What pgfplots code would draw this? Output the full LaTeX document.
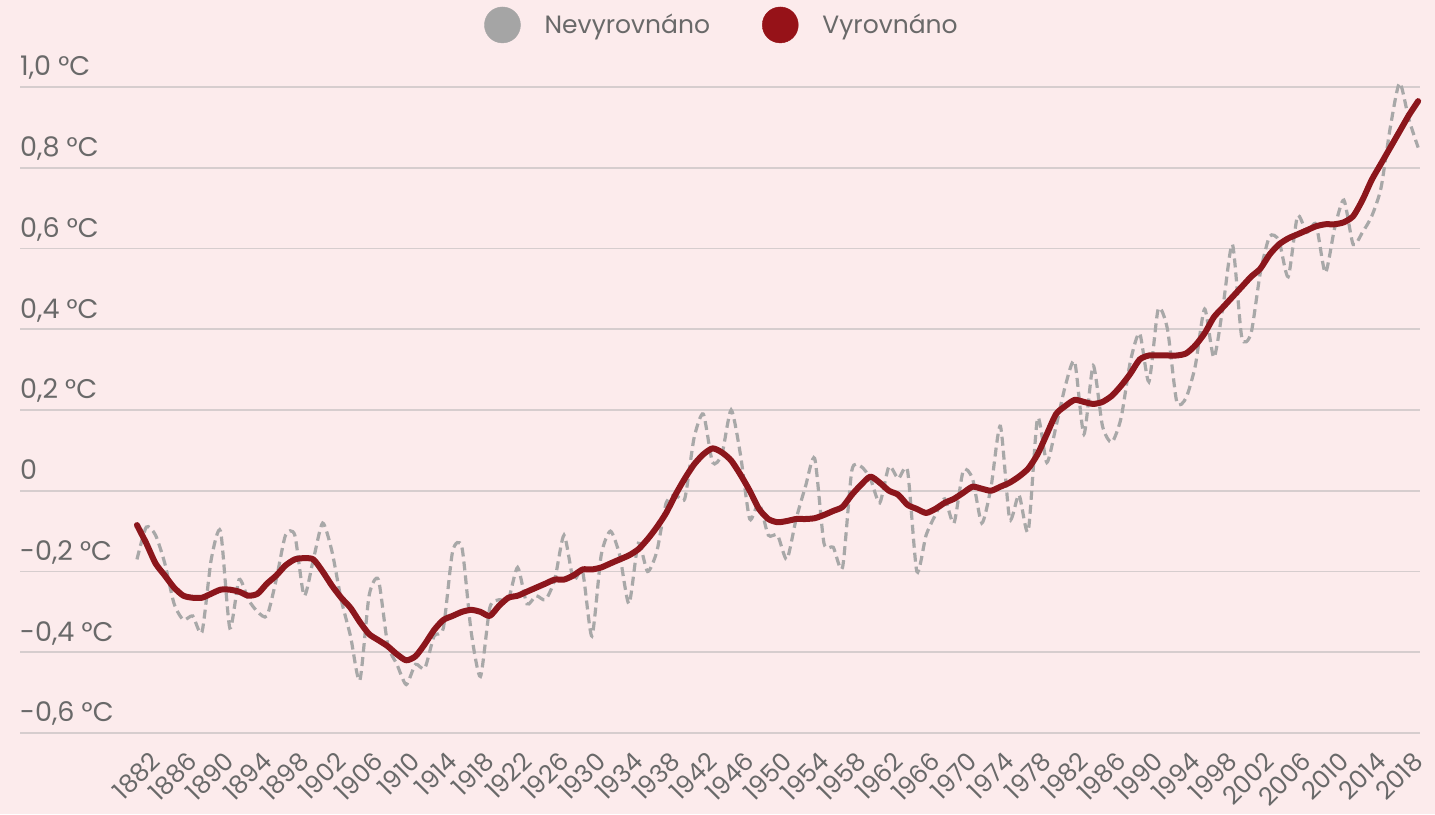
\documentclass[border=0pt]{standalone}
\usepackage{fontspec}
\setmainfont{Poppins}
\usepackage{pgfplots}
\usepackage{pgfplotstable}
\pgfplotsset{compat=1.18}
\definecolor{bgc}{RGB}{252,235,236}
\definecolor{gridc}{RGB}{214,205,206}
\definecolor{txtc}{RGB}{105,105,105}
\definecolor{rawc}{RGB}{168,168,168}
\definecolor{smoothc}{RGB}{140,22,28}
\definecolor{legred}{RGB}{150,18,24}
\definecolor{leggray}{RGB}{165,165,165}

\pgfplotstableread{
year raw smooth
1880 -0.17 -0.085
1881 -0.09 -0.13
1882 -0.11 -0.18
1883 -0.18 -0.21
1884 -0.28 -0.24
1885 -0.32 -0.26
1886 -0.31 -0.265
1887 -0.35 -0.265
1888 -0.17 -0.255
1889 -0.10 -0.245
1890 -0.34 -0.245
1891 -0.22 -0.25
1892 -0.27 -0.26
1893 -0.30 -0.255
1894 -0.31 -0.23
1895 -0.22 -0.21
1896 -0.11 -0.185
1897 -0.11 -0.17
1898 -0.26 -0.167
1899 -0.17 -0.17
1900 -0.08 -0.20
1901 -0.15 -0.235
1902 -0.27 -0.265
1903 -0.36 -0.29
1904 -0.47 -0.325
1905 -0.26 -0.355
1906 -0.22 -0.37
1907 -0.38 -0.385
1908 -0.43 -0.405
1909 -0.48 -0.42
1910 -0.43 -0.41
1911 -0.44 -0.38
1912 -0.36 -0.345
1913 -0.34 -0.32
1914 -0.15 -0.31
1915 -0.14 -0.30
1916 -0.35 -0.295
1917 -0.46 -0.30
1918 -0.29 -0.31
1919 -0.27 -0.285
1920 -0.27 -0.265
1921 -0.19 -0.26
1922 -0.28 -0.25
1923 -0.26 -0.24
1924 -0.27 -0.23
1925 -0.22 -0.22
1926 -0.11 -0.22
1927 -0.22 -0.21
1928 -0.20 -0.195
1929 -0.36 -0.195
1930 -0.16 -0.19
1931 -0.10 -0.18
1932 -0.16 -0.17
1933 -0.28 -0.16
1934 -0.13 -0.145
1935 -0.20 -0.12
1936 -0.15 -0.09
1937 -0.03 -0.055
1938 -0.01 -0.01
1939 -0.02 0.03
1940 0.13 0.065
1941 0.19 0.09
1942 0.07 0.105
1943 0.09 0.095
1944 0.20 0.075
1945 0.09 0.04
1946 -0.07 0.0
1947 -0.03 -0.045
1948 -0.11 -0.07
1949 -0.11 -0.078
1950 -0.17 -0.075
1951 -0.07 -0.07
1952 0.01 -0.07
1953 0.08 -0.068
1954 -0.13 -0.06
1955 -0.14 -0.05
1956 -0.19 -0.04
1957 0.05 -0.01
1958 0.06 0.015
1959 0.03 0.035
1960 -0.03 0.02
1961 0.06 0.0
1962 0.03 -0.01
1963 0.05 -0.035
1964 -0.20 -0.045
1965 -0.11 -0.055
1966 -0.06 -0.045
1967 -0.02 -0.03
1968 -0.08 -0.02
1969 0.05 -0.005
1970 0.03 0.01
1971 -0.08 0.005
1972 0.01 0.0
1973 0.16 0.01
1974 -0.07 0.02
1975 -0.01 0.035
1976 -0.10 0.055
1977 0.18 0.09
1978 0.07 0.14
1979 0.16 0.19
1980 0.26 0.21
1981 0.32 0.225
1982 0.14 0.22
1983 0.31 0.215
1984 0.16 0.22
1985 0.12 0.235
1986 0.18 0.26
1987 0.32 0.29
1988 0.39 0.325
1989 0.27 0.335
1990 0.45 0.335
1991 0.40 0.335
1992 0.22 0.335
1993 0.23 0.34
1994 0.31 0.36
1995 0.45 0.39
1996 0.33 0.43
1997 0.46 0.455
1998 0.61 0.48
1999 0.38 0.505
2000 0.39 0.53
2001 0.54 0.55
2002 0.63 0.585
2003 0.62 0.61
2004 0.53 0.625
2005 0.68 0.635
2006 0.64 0.645
2007 0.66 0.655
2008 0.54 0.66
2009 0.65 0.66
2010 0.72 0.665
2011 0.61 0.68
2012 0.64 0.72
2013 0.68 0.77
2014 0.75 0.81
2015 0.90 0.85
2016 1.01 0.89
2017 0.92 0.93
2018 0.85 0.965
}\datatable

\begin{document}
\begin{tikzpicture}[x=1pt,y=1pt]
\useasboundingbox (0,0) rectangle (1435,814);
\fill[bgc] (0,0) rectangle (1435,814);
\begin{axis}[
  at={(20pt,81pt)}, anchor=south west,
  scale only axis, width=1400pt, height=666.2pt,
  xmin=1867.4, xmax=2018.2, ymin=-0.6, ymax=1.05,
  clip=false,
  axis line style={draw=none},
  major tick length=0pt,
  ymajorgrids, major grid style={gridc, line width=1.8pt},
  ytick={-0.6,-0.4,-0.2,0,0.2,0.4,0.6,0.8,1.0},
  yticklabels={{-0,6 °C},{-0,4 °C},{-0,2 °C},{0},{0,2 °C},{0,4 °C},{0,6 °C},{0,8 °C},{1,0 °C}},
  yticklabel style={anchor=base west, inner sep=0pt, yshift=11pt, font=\fontsize{27}{32}\selectfont, text=txtc},
  xtick={1882,1886,...,2018},
  xticklabel shift=24pt,
  xticklabel style={rotate=45, anchor=east, inner sep=0pt, font=\fontsize{25}{30}\selectfont, text=txtc,
    /pgf/number format/1000 sep={}, /pgf/number format/assume math mode=true},
  legend style={at={(0.5007,1.0628)}, anchor=center, draw=none, fill=none,
    legend columns=-1, font=\fontsize{25}{30}\selectfont, text=txtc,
    nodes={inner sep=0pt},
    /tikz/every odd column/.append style={column sep=24pt},
    /tikz/every even column/.append style={column sep=52pt}},
]
\addlegendimage{legend image code/.code={\fill[leggray] (18pt,0pt) circle (18pt);}}
\addlegendentry{Nevyrovnáno}
\addlegendimage{legend image code/.code={\fill[legred] (18pt,0pt) circle (18pt);}}
\addlegendentry{Vyrovnáno}
\addplot[forget plot, rawc, line width=3.2pt, dash pattern=on 9pt off 5pt, smooth, tension=0.4] table[x=year, y=raw] {\datatable};
\addplot[forget plot, smoothc, line width=6pt, smooth, tension=0.4, line join=round, line cap=round] table[x=year, y=smooth] {\datatable};
\end{axis}
\end{tikzpicture}
\end{document}
